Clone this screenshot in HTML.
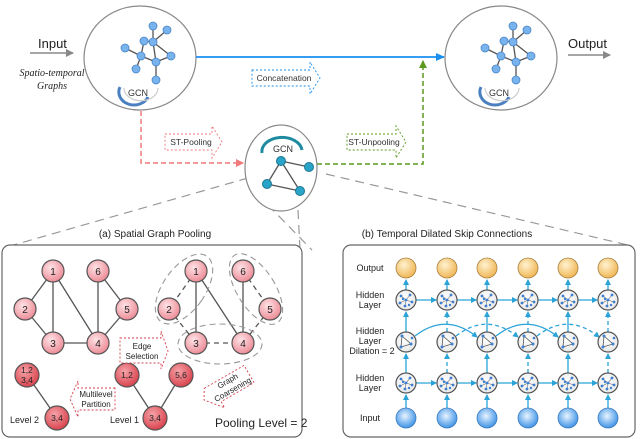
<!DOCTYPE html>
<html><head><meta charset="utf-8"><style>
html,body{margin:0;padding:0;background:#fff}
svg{display:block;font-family:"Liberation Sans",sans-serif}
</style></head><body>
<svg width="640" height="439" viewBox="0 0 640 439" xmlns="http://www.w3.org/2000/svg">
<defs>
<radialGradient id="pk" cx="40%" cy="35%" r="65%"><stop offset="0" stop-color="#fde3e6"/><stop offset="1" stop-color="#ee8d98"/></radialGradient>
<radialGradient id="rd" cx="40%" cy="35%" r="65%"><stop offset="0" stop-color="#f6a3a8"/><stop offset="1" stop-color="#d9444f"/></radialGradient>
<radialGradient id="yl" cx="40%" cy="35%" r="65%"><stop offset="0" stop-color="#fff2d0"/><stop offset="1" stop-color="#f0b756"/></radialGradient>
<radialGradient id="bl" cx="45%" cy="40%" r="60%"><stop offset="0" stop-color="#e8f4ff"/><stop offset="1" stop-color="#3f93e6"/></radialGradient>
<radialGradient id="gc" cx="45%" cy="40%" r="65%"><stop offset="0" stop-color="#fff"/><stop offset="1" stop-color="#e6e6e6"/></radialGradient>
<marker id="ag" markerWidth="8" markerHeight="8" refX="7" refY="4" orient="auto" markerUnits="userSpaceOnUse"><path d="M0,0 L8,4 L0,8z" fill="#888"/></marker>
<marker id="ab" markerWidth="9" markerHeight="8" refX="8" refY="4" orient="auto" markerUnits="userSpaceOnUse"><path d="M0,0 L9,4 L0,8z" fill="#1a8ff0"/></marker>
<marker id="ar" markerWidth="8" markerHeight="8" refX="7" refY="4" orient="auto" markerUnits="userSpaceOnUse"><path d="M0,0 L8,4 L0,8z" fill="#f0797d"/></marker>
<marker id="agr" markerWidth="8" markerHeight="8" refX="7" refY="4" orient="auto" markerUnits="userSpaceOnUse"><path d="M0,0 L8,4 L0,8z" fill="#5a9a1e"/></marker>
<marker id="ac" markerWidth="6" markerHeight="6" refX="5" refY="3" orient="auto" markerUnits="userSpaceOnUse"><path d="M0,0 L6,3 L0,6z" fill="#2aa3d8"/></marker>
<g id="g1">
<g stroke="#555" stroke-width="1.3">
<line x1="0" y1="-22" x2="0" y2="-6"/><line x1="0" y1="-6" x2="14" y2="-18"/><line x1="0" y1="-6" x2="18" y2="8"/><line x1="-9" y1="-7" x2="0" y2="-6"/><line x1="-9" y1="-7" x2="-12" y2="8"/><line x1="-12" y1="8" x2="3" y2="14"/><line x1="3" y1="14" x2="18" y2="8"/><line x1="-12" y1="8" x2="-17" y2="21"/><line x1="3" y1="14" x2="3" y2="32"/><line x1="-12" y1="8" x2="-28" y2="0"/><line x1="0" y1="-6" x2="3" y2="14"/>
</g>
<g fill="#79b3ee" stroke="#4a86c6" stroke-width="0.8">
<circle cx="0" cy="-22" r="4"/><circle cx="14" cy="-18" r="4"/><circle cx="0" cy="-6" r="4"/><circle cx="-9" cy="-7" r="4"/><circle cx="18" cy="8" r="4"/><circle cx="-12" cy="8" r="4"/><circle cx="3" cy="14" r="4"/><circle cx="-17" cy="21" r="4"/><circle cx="3" cy="32" r="4"/><circle cx="-28" cy="0" r="4"/>
</g></g>
<g id="hn"><circle r="10" fill="url(#gc)" stroke="#555" stroke-width="1.2"/>
<g stroke="#666" stroke-width="0.6"><line x1="0" y1="0" x2="-5" y2="-4"/><line x1="0" y1="0" x2="4" y2="-5"/><line x1="0" y1="0" x2="6" y2="2"/><line x1="0" y1="0" x2="-1" y2="6"/><line x1="0" y1="0" x2="-6" y2="3"/></g>
<g fill="#3d7fd0"><circle cx="-5" cy="-4" r="1.4"/><circle cx="4" cy="-5" r="1.4"/><circle cx="6" cy="2" r="1.4"/><circle cx="-1" cy="6" r="1.4"/><circle cx="-6" cy="3" r="1.4"/><circle cx="0" cy="0" r="1.4"/><circle cx="3" cy="5" r="1.2"/><circle cx="-3" cy="-1" r="1.2"/></g></g>
<g id="dn"><circle r="10" fill="url(#gc)" stroke="#555" stroke-width="1.2"/>
<path d="M-4,-6 L5,2 L-5,5 Z M-4,-6 L-5,5" stroke="#555" stroke-width="0.8" fill="none"/>
<g fill="#3d7fd0"><circle cx="-4" cy="-6" r="1.5"/><circle cx="5" cy="2" r="1.5"/><circle cx="-5" cy="5" r="1.5"/><circle cx="6" cy="-4" r="1.3"/></g></g>
</defs>

<g stroke="#999" stroke-width="1.2" stroke-dasharray="9,6" fill="none">
<line x1="248" y1="178" x2="10" y2="246"/>
<line x1="268" y1="205" x2="312" y2="250"/>
<line x1="298" y1="210" x2="300" y2="250"/>
<line x1="326" y1="174" x2="632" y2="246"/>
</g>

<ellipse cx="140" cy="58" rx="56" ry="52" fill="#fff" stroke="#888" stroke-width="1.2"/>
<ellipse cx="501" cy="58" rx="56" ry="52" fill="#fff" stroke="#888" stroke-width="1.2"/>
<use href="#g1" x="153" y="48"/>
<use href="#g1" x="513" y="48"/>
<g font-size="9" fill="#333">
<path d="M120,87 A14,12 0 0 0 148,97" stroke="#4a7fc0" stroke-width="3" fill="none"/>
<path d="M124,88 A16,12 0 0 0 158,88" stroke="#ccc" stroke-width="1.2" fill="none"/>
<text x="128" y="96">GCN</text>
<path d="M481,87 A14,12 0 0 0 509,97" stroke="#4a7fc0" stroke-width="3" fill="none"/>
<path d="M485,88 A16,12 0 0 0 519,88" stroke="#ccc" stroke-width="1.2" fill="none"/>
<text x="489" y="96">GCN</text>
</g>

<text x="38" y="48" font-size="13" fill="#222">Input</text>
<line x1="30" y1="53" x2="73" y2="53" stroke="#888" stroke-width="1.5" marker-end="url(#ag)"/>
<text x="52" y="76" font-size="10" font-style="italic" font-family="Liberation Serif,serif" text-anchor="middle" fill="#222">Spatio-temporal</text>
<text x="52" y="89" font-size="10" font-style="italic" font-family="Liberation Serif,serif" text-anchor="middle" fill="#222">Graphs</text>
<text x="568" y="48" font-size="13" fill="#222">Output</text>
<line x1="568" y1="55" x2="610" y2="55" stroke="#888" stroke-width="1.5" marker-end="url(#ag)"/>

<line x1="196" y1="57" x2="444" y2="57" stroke="#1a8ff0" stroke-width="1.8" marker-end="url(#ab)"/>
<path d="M252,70 H310 V62 L320,78 L310,94 V86 H252 Z" fill="#fff" stroke="#1a8ff0" stroke-width="0.9" stroke-dasharray="2,2"/>
<text x="284" y="81" font-size="8.5" text-anchor="middle" fill="#333">Concatenation</text>

<path d="M141,111 V163 H243" stroke="#f0797d" stroke-width="1.5" stroke-dasharray="5,3" fill="none" marker-end="url(#ar)"/>
<path d="M165,134 H212 V126 L222,142 L212,158 V150 H165 Z" fill="#fff" stroke="#f0797d" stroke-width="0.9" stroke-dasharray="2,2"/>
<text x="191" y="145" font-size="8.5" text-anchor="middle" fill="#333">ST-Pooling</text>

<path d="M317,164 H423 V61" stroke="#5a9a1e" stroke-width="1.5" stroke-dasharray="5,3" fill="none" marker-end="url(#agr)"/>
<path d="M347,134 H396 V126 L406,142 L396,158 V150 H347 Z" fill="#fff" stroke="#5a9a1e" stroke-width="0.9" stroke-dasharray="2,2"/>
<text x="374" y="145" font-size="8.5" text-anchor="middle" fill="#333">ST-Unpooling</text>

<ellipse cx="281" cy="168" rx="36" ry="43" fill="#fff" stroke="#888" stroke-width="1.2"/>
<path d="M262,153 A20,14 0 0 1 302,150" stroke="#1d8aa0" stroke-width="3" fill="none"/>
<text x="283" y="152" font-size="9" text-anchor="middle" fill="#333">GCN</text>
<g stroke="#555" stroke-width="1.3"><line x1="281" y1="161" x2="309" y2="167"/><line x1="281" y1="161" x2="267" y2="184"/><line x1="267" y1="184" x2="300" y2="191"/><line x1="281" y1="161" x2="300" y2="191"/></g>
<g fill="#2aa3c8" stroke="#1d7890"><circle cx="281" cy="161" r="4.5"/><circle cx="309" cy="167" r="4.5"/><circle cx="267" cy="184" r="4.5"/><circle cx="300" cy="191" r="4.5"/></g>

<text x="155" y="237" font-size="10" text-anchor="middle" fill="#222">(a) Spatial Graph Pooling</text>
<rect x="2" y="245" width="300" height="192" rx="8" fill="#fff" stroke="#666" stroke-width="1.2"/>
<g stroke="#555" stroke-width="1.3">
<line x1="53" y1="271" x2="25" y2="309"/><line x1="53" y1="271" x2="53" y2="343"/><line x1="53" y1="271" x2="98" y2="343"/><line x1="25" y1="309" x2="53" y2="343"/><line x1="53" y1="343" x2="98" y2="343"/><line x1="98" y1="271" x2="98" y2="343"/><line x1="98" y1="271" x2="127" y2="309"/><line x1="127" y1="309" x2="98" y2="343"/>
<line x1="196" y1="271" x2="196" y2="343"/><line x1="196" y1="271" x2="243" y2="343"/><line x1="243" y1="271" x2="243" y2="343"/>
<line x1="27" y1="375" x2="57" y2="418"/><line x1="127" y1="375" x2="155" y2="418"/><line x1="181" y1="375" x2="155" y2="418"/>
</g>
<g stroke="#555" stroke-width="1.3" stroke-dasharray="5,4">
<line x1="196" y1="271" x2="169" y2="309"/><line x1="169" y1="309" x2="196" y2="343"/><line x1="196" y1="343" x2="243" y2="343"/><line x1="243" y1="271" x2="270" y2="309"/><line x1="270" y1="309" x2="243" y2="343"/>
</g>
<g fill="none" stroke="#999" stroke-width="1.1" stroke-dasharray="6,4">
<ellipse cx="184" cy="289" rx="21" ry="40" transform="rotate(35 184 289)"/>
<ellipse cx="256" cy="289" rx="19" ry="40" transform="rotate(-32 256 289)"/>
<ellipse cx="220" cy="344" rx="42" ry="20"/>
</g>
<g fill="url(#pk)" stroke="#555" stroke-width="1.2">
<circle cx="53" cy="271" r="11"/><circle cx="98" cy="271" r="11"/><circle cx="25" cy="309" r="11"/><circle cx="127" cy="309" r="11"/><circle cx="53" cy="343" r="11"/><circle cx="98" cy="343" r="11"/>
<circle cx="196" cy="271" r="11"/><circle cx="243" cy="271" r="11"/><circle cx="169" cy="309" r="11"/><circle cx="270" cy="309" r="11"/><circle cx="196" cy="343" r="11"/><circle cx="243" cy="343" r="11"/>
</g>
<g fill="url(#rd)" stroke="#555" stroke-width="1.2">
<circle cx="27" cy="375" r="12"/><circle cx="57" cy="418" r="12"/><circle cx="127" cy="375" r="12"/><circle cx="181" cy="375" r="12"/><circle cx="155" cy="418" r="12"/>
</g>
<g font-size="10" text-anchor="middle" fill="#222">
<text x="53" y="275">1</text><text x="98" y="275">6</text><text x="25" y="313">2</text><text x="127" y="313">5</text><text x="53" y="347">3</text><text x="98" y="347">4</text>
<text x="196" y="275">1</text><text x="243" y="275">6</text><text x="169" y="313">2</text><text x="270" y="313">5</text><text x="196" y="347">3</text><text x="243" y="347">4</text>
</g>
<g font-size="8.5" text-anchor="middle" fill="#222">
<text x="27" y="373">1,2</text><text x="27" y="383">3,4</text><text x="57" y="421">3,4</text><text x="127" y="378">1,2</text><text x="181" y="378">5,6</text><text x="155" y="421">3,4</text>
</g>
<text x="10" y="423" font-size="9" fill="#222">Level 2</text>
<text x="110" y="423" font-size="9" fill="#222">Level 1</text>
<text x="215" y="427" font-size="12" fill="#222">Pooling Level = 2</text>
<path d="M120,338 H161 V331 L168,351 L161,369 V363 H120 Z" fill="#fff" stroke="#d33c4a" stroke-width="0.9" stroke-dasharray="2,2"/>
<text x="142" y="349" font-size="8" text-anchor="middle" fill="#222">Edge</text>
<text x="142" y="359" font-size="8" text-anchor="middle" fill="#222">Selection</text>
<path d="M115,388 H78 V381 L70,399 L78,417 V410 H115 Z" fill="#fff" stroke="#d33c4a" stroke-width="0.9" stroke-dasharray="2,2"/>
<text x="96" y="397" font-size="8" text-anchor="middle" fill="#222">Multilevel</text>
<text x="96" y="407" font-size="8" text-anchor="middle" fill="#222">Partition</text>
<g transform="rotate(-30 230 385)">
<path d="M206,375 H252 V395 H214 L214,402 L200,385 Z" fill="#fff" stroke="#d33c4a" stroke-width="0.9" stroke-dasharray="2,2"/>
<text x="230" y="383" font-size="8" text-anchor="middle" fill="#222">Graph</text>
<text x="230" y="393" font-size="8" text-anchor="middle" fill="#222">Coarsening</text>
</g>

<text x="447" y="237" font-size="10" text-anchor="middle" fill="#222">(b) Temporal Dilated Skip Connections</text>
<rect x="343" y="245" width="292" height="192" rx="8" fill="#fff" stroke="#666" stroke-width="1.2"/>
<g font-size="9" text-anchor="middle" fill="#222">
<text x="370" y="271">Output</text>
<text x="370" y="298">Hidden</text><text x="370" y="308">Layer</text>
<text x="370" y="334">Hidden</text><text x="370" y="344">Layer</text><text x="372" y="354">Dilation = 2</text>
<text x="370" y="381">Hidden</text><text x="370" y="391">Layer</text>
<text x="370" y="421">Input</text>
</g>
<g stroke="#2aa3d8" stroke-width="1.3" fill="none">
<line x1="406" y1="290" x2="406" y2="280" marker-end="url(#ac)"/><line x1="447" y1="290" x2="447" y2="280" marker-end="url(#ac)"/><line x1="487" y1="290" x2="487" y2="280" marker-end="url(#ac)"/><line x1="528" y1="290" x2="528" y2="280" marker-end="url(#ac)"/><line x1="568" y1="290" x2="568" y2="280" marker-end="url(#ac)"/><line x1="608" y1="290" x2="608" y2="280" marker-end="url(#ac)"/>
<line x1="406" y1="332" x2="406" y2="312" marker-end="url(#ac)"/><line x1="487" y1="332" x2="487" y2="312" marker-end="url(#ac)"/><line x1="568" y1="332" x2="568" y2="312" marker-end="url(#ac)"/>
<line x1="406" y1="373" x2="406" y2="354" marker-end="url(#ac)"/><line x1="487" y1="373" x2="487" y2="354" marker-end="url(#ac)"/><line x1="568" y1="373" x2="568" y2="354" marker-end="url(#ac)"/>
<line x1="406" y1="408" x2="406" y2="395" marker-end="url(#ac)"/><line x1="447" y1="408" x2="447" y2="395" marker-end="url(#ac)"/><line x1="487" y1="408" x2="487" y2="395" marker-end="url(#ac)"/><line x1="528" y1="408" x2="528" y2="395" marker-end="url(#ac)"/><line x1="568" y1="408" x2="568" y2="395" marker-end="url(#ac)"/><line x1="608" y1="408" x2="608" y2="395" marker-end="url(#ac)"/>
<line x1="416" y1="300" x2="436" y2="300" marker-end="url(#ac)"/><line x1="457" y1="300" x2="476" y2="300" marker-end="url(#ac)"/><line x1="497" y1="300" x2="517" y2="300" marker-end="url(#ac)"/><line x1="538" y1="300" x2="557" y2="300" marker-end="url(#ac)"/><line x1="578" y1="300" x2="597" y2="300" marker-end="url(#ac)"/>
<line x1="416" y1="383" x2="436" y2="383" marker-end="url(#ac)"/><line x1="457" y1="383" x2="476" y2="383" marker-end="url(#ac)"/><line x1="497" y1="383" x2="517" y2="383" marker-end="url(#ac)"/><line x1="538" y1="383" x2="557" y2="383" marker-end="url(#ac)"/><line x1="578" y1="383" x2="597" y2="383" marker-end="url(#ac)"/>
<path d="M415,336 Q446,312 477,337" marker-end="url(#ac)"/><path d="M496,336 Q527,312 558,337" marker-end="url(#ac)"/>
</g>
<g stroke="#2aa3d8" stroke-width="1.3" fill="none" stroke-dasharray="4,3">
<line x1="447" y1="332" x2="447" y2="312" marker-end="url(#ac)"/><line x1="528" y1="332" x2="528" y2="312" marker-end="url(#ac)"/><line x1="608" y1="332" x2="608" y2="312" marker-end="url(#ac)"/>
<line x1="447" y1="373" x2="447" y2="354" marker-end="url(#ac)"/><line x1="528" y1="373" x2="528" y2="354" marker-end="url(#ac)"/><line x1="608" y1="373" x2="608" y2="354" marker-end="url(#ac)"/>
<path d="M456,336 Q487,312 518,337" marker-end="url(#ac)"/><path d="M537,336 Q568,312 599,337" marker-end="url(#ac)"/>
</g>
<g fill="url(#yl)" stroke="#a88040" stroke-width="0.8">
<circle cx="406" cy="268" r="10"/><circle cx="447" cy="268" r="10"/><circle cx="487" cy="268" r="10"/><circle cx="528" cy="268" r="10"/><circle cx="568" cy="268" r="10"/><circle cx="608" cy="268" r="10"/>
</g>
<g fill="url(#bl)" stroke="#3a7ac0" stroke-width="0.8">
<circle cx="406" cy="418" r="10"/><circle cx="447" cy="418" r="10"/><circle cx="487" cy="418" r="10"/><circle cx="528" cy="418" r="10"/><circle cx="568" cy="418" r="10"/><circle cx="608" cy="418" r="10"/>
</g>
<use href="#hn" x="406" y="300"/><use href="#hn" x="447" y="300"/><use href="#hn" x="487" y="300"/><use href="#hn" x="528" y="300"/><use href="#hn" x="568" y="300"/><use href="#hn" x="608" y="300"/>
<use href="#hn" x="406" y="383"/><use href="#hn" x="447" y="383"/><use href="#hn" x="487" y="383"/><use href="#hn" x="528" y="383"/><use href="#hn" x="568" y="383"/><use href="#hn" x="608" y="383"/>
<use href="#dn" x="406" y="342"/><use href="#dn" x="447" y="342"/><use href="#dn" x="487" y="342"/><use href="#dn" x="528" y="342"/><use href="#dn" x="568" y="342"/><use href="#dn" x="608" y="342"/>
</svg>
</body></html>
